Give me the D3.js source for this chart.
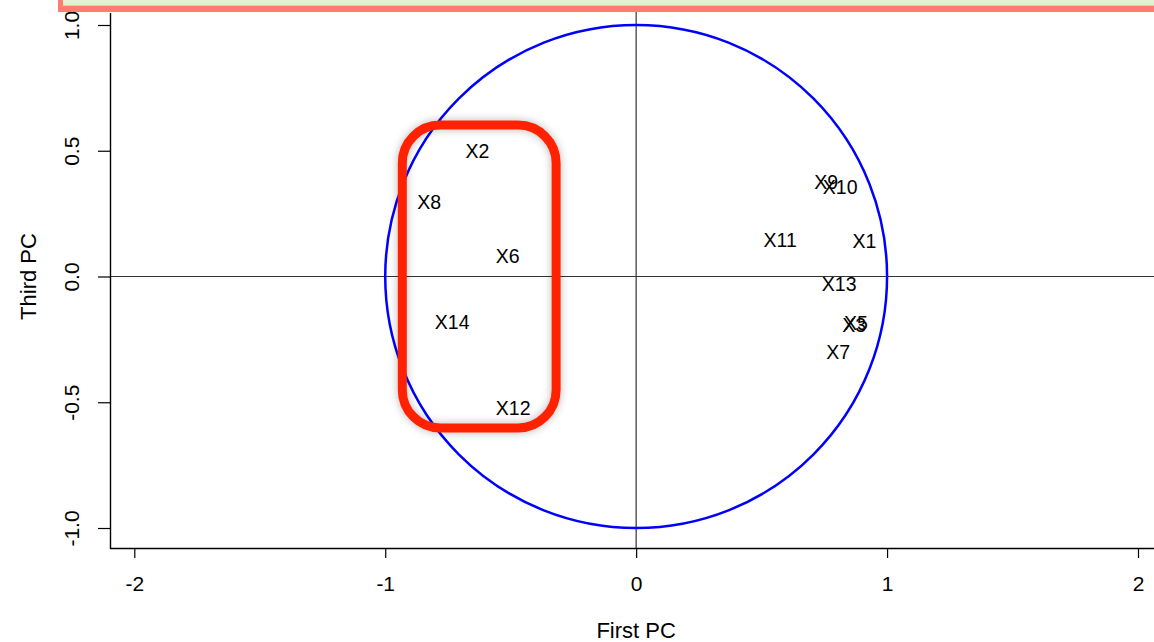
<!DOCTYPE html>
<html>
<head>
<meta charset="utf-8">
<script src="https://cdn.jsdelivr.net/npm/d3@7"></script>
<style>
  html, body { margin: 0; padding: 0; background: #fff; }
  svg { display: block; font-family: "Liberation Sans", Arial, Helvetica, sans-serif; }
</style>
</head>
<body>
<svg id="chart" width="1154" height="642"></svg>
<script>
// Variable loadings on the first and third principal components
const variables = ["X1", "X2", "X3", "X5", "X6", "X7", "X8", "X9", "X10", "X11", "X12", "X13", "X14"];
const firstPC  = [0.910, -0.633, 0.869, 0.876, -0.512, 0.805, -0.825, 0.757, 0.813, 0.574, -0.490, 0.809, -0.733];
const thirdPC  = [0.141, 0.499, -0.193, -0.185, 0.082, -0.300, 0.296, 0.376, 0.356, 0.145, -0.523, -0.030, -0.181];

const xTicks = [-2, -1, 0, 1, 2];
const yTicks = [-1.0, -0.5, 0.0, 0.5, 1.0];

// Highlighted group of negatively loaded variables (x range, y range)
const groupX = [-0.932, -0.319];
const groupY = [-0.602, 0.602];

const svg = d3.select("#chart");

const x = d3.scaleLinear().domain([-2, 2]).range([134.3, 1138]);
const y = d3.scaleLinear().domain([-1, 1]).range([528, 25]);

const left = 110, bottom = 548;

// Plain hyphen for negative numbers
const fmtX = d => d3.format("d")(d).replace("\u2212", "-");
const fmtY = d => d3.format(".1f")(d).replace("\u2212", "-");

const defs = svg.append("defs");
const shadow = defs.append("filter").attr("id", "soft-shadow")
  .attr("x", "-20%").attr("y", "-20%").attr("width", "140%").attr("height", "140%");
shadow.append("feDropShadow").attr("dx", 0).attr("dy", 0)
  .attr("stdDeviation", 4).attr("flood-color", "#000").attr("flood-opacity", 0.28);

// Reference lines through the origin
svg.append("line")
  .attr("x1", left).attr("x2", 1154)
  .attr("y1", y(0)).attr("y2", y(0))
  .attr("stroke", "#333").attr("stroke-width", 1.2);
svg.append("line")
  .attr("x1", x(0)).attr("x2", x(0))
  .attr("y1", 0).attr("y2", bottom)
  .attr("stroke", "#333").attr("stroke-width", 1.2);

// Unit correlation circle
svg.append("ellipse")
  .attr("cx", x(0)).attr("cy", y(0))
  .attr("rx", x(1) - x(0)).attr("ry", y(0) - y(1))
  .attr("fill", "none").attr("stroke", "#0000ff").attr("stroke-width", 2.5);

// Variable labels
svg.append("g").selectAll("text")
  .data(variables)
  .join("text")
  .attr("x", (d, i) => x(firstPC[i]))
  .attr("y", (d, i) => y(thirdPC[i]))
  .attr("text-anchor", "middle")
  .attr("dy", "0.36em")
  .attr("font-size", 19.5)
  .attr("fill", "#000")
  .text(d => d);

// Axes
const xAxis = d3.axisBottom(x).tickValues(xTicks).tickFormat(fmtX).tickSize(10).tickPadding(18);
const gx = svg.append("g").attr("transform", `translate(0,${bottom})`).call(xAxis);
gx.select(".domain").remove();
gx.append("line").attr("x1", left).attr("x2", 1154).attr("y1", 0.5).attr("y2", 0.5)
  .attr("stroke", "#000").attr("stroke-width", 1.4);
gx.selectAll(".tick line").attr("stroke", "#000").attr("stroke-width", 1.2);
gx.selectAll(".tick text").attr("font-size", 21).attr("fill", "#000")
  .attr("font-family", "'Liberation Sans', Arial, sans-serif");

const yAxis = d3.axisLeft(y).tickValues(yTicks).tickFormat(fmtY).tickSize(12).tickPadding(0);
const gy = svg.append("g").attr("transform", `translate(${left},0)`).call(yAxis);
gy.select(".domain").remove();
gy.append("line").attr("x1", 0.5).attr("x2", 0.5).attr("y1", 13).attr("y2", bottom + 1)
  .attr("stroke", "#000").attr("stroke-width", 1.4);
gy.selectAll(".tick line").attr("stroke", "#000").attr("stroke-width", 1.2);
gy.selectAll(".tick text")
  .attr("font-size", 21).attr("fill", "#000")
  .attr("font-family", "'Liberation Sans', Arial, sans-serif")
  .attr("x", null).attr("dy", null)
  .attr("text-anchor", "middle")
  .attr("transform", "translate(-38,0) rotate(-90)")
  .attr("y", 7);

// Axis titles
svg.append("text")
  .attr("x", x(0)).attr("y", 638)
  .attr("text-anchor", "middle").attr("font-size", 22).attr("fill", "#000")
  .text("First PC");
svg.append("text")
  .attr("transform", `translate(36,${y(0)}) rotate(-90)`)
  .attr("text-anchor", "middle").attr("font-size", 22).attr("fill", "#000")
  .text("Third PC");

// Highlight box around the left-hand group
svg.append("rect")
  .attr("x", x(groupX[0])).attr("y", y(groupY[1]))
  .attr("width", x(groupX[1]) - x(groupX[0]))
  .attr("height", y(groupY[0]) - y(groupY[1]))
  .attr("rx", 38).attr("ry", 38)
  .attr("fill", "none").attr("stroke", "#ff2200").attr("stroke-width", 9)
  .attr("filter", "url(#soft-shadow)");

// Banner edge along the top
svg.append("rect").attr("x", 58).attr("y", -10).attr("width", 1110).attr("height", 22)
  .attr("fill", "#ff7b74");
svg.append("rect").attr("x", 63).attr("y", -10).attr("width", 1100).attr("height", 16)
  .attr("fill", "#f2c9a0");
svg.append("rect").attr("x", 63).attr("y", -10).attr("width", 1100).attr("height", 15)
  .attr("fill", "#def2d2");
</script>
</body>
</html>
